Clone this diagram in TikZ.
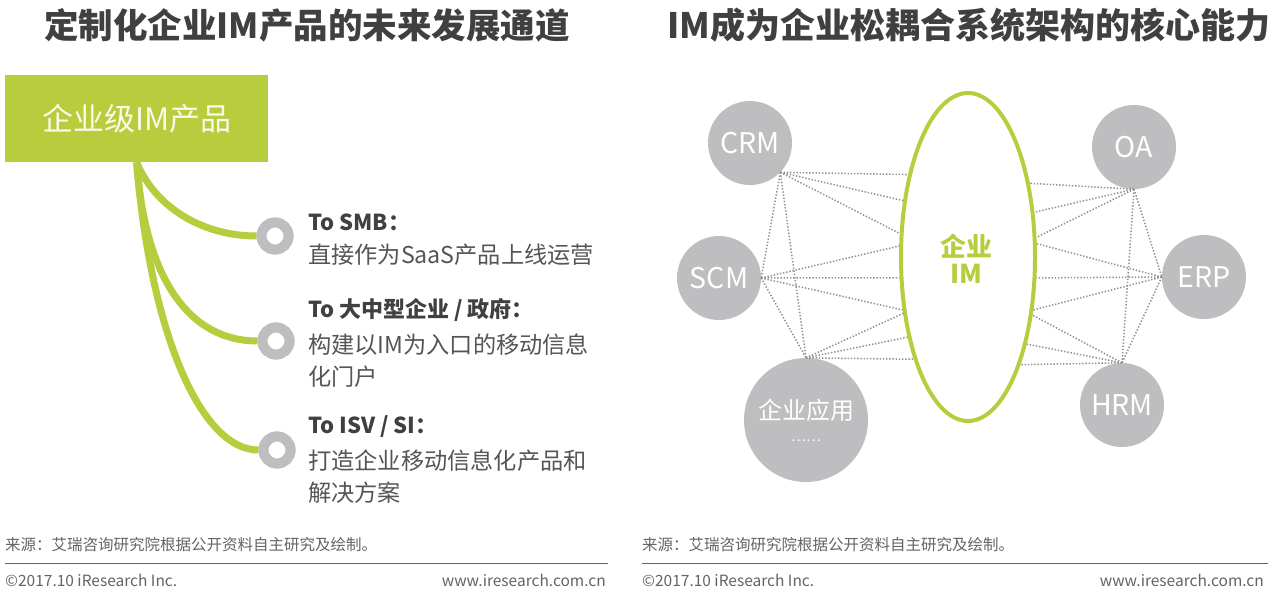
\documentclass[tikz,border=0pt]{standalone}
\usepackage{fontspec}
\setmainfont{Noto Sans CJK SC}
\usetikzlibrary{shapes.geometric}
\definecolor{lime}{RGB}{183,205,62}
\definecolor{ringgray}{RGB}{190,190,192}
\definecolor{titlegray}{RGB}{64,64,64}
\definecolor{bodygray}{RGB}{85,85,85}
\definecolor{footgray}{RGB}{100,100,100}
\definecolor{dotgray}{RGB}{145,145,145}
\definecolor{cream}{RGB}{250,250,232}
\begin{document}
\begin{tikzpicture}[x=1pt,y=-1pt,
  title/.style={font=\fontsize{34.5}{40}\selectfont\bfseries, text=titlegray, inner sep=0},
  head/.style={font=\fontsize{22}{26}\selectfont\bfseries, text=titlegray, anchor=west, inner sep=0},
  body/.style={font=\fontsize{23.2}{27}\selectfont, text=bodygray, anchor=west, inner sep=0},
  foot/.style={font=\fontsize{15.5}{18}\selectfont, text=footgray, inner sep=0},
  ring/.style={circle, draw=ringgray, line width=10pt, minimum size=27pt, inner sep=0, fill=white},
  branch/.style={lime, line width=7pt},
  sys/.style={circle, fill=ringgray, text=white, minimum size=84pt, inner sep=0, font=\fontsize{28.5}{32}\selectfont},
  link/.style={dotgray, line width=1.5pt, dash pattern=on 1.4pt off 1.8pt}]
\useasboundingbox[fill=white] (0,0) rectangle (1280,605);

% ---------- left panel ----------
\node[title] (t1) at (307,25) {定制化企业IM产品的未来发展通道};
\node[fill=lime, minimum width=263pt, minimum height=87pt, inner sep=0, anchor=north west,
      text=cream, font=\fontsize{31}{36}\selectfont] (box) at (5,75) {企业级IM产品};

\node[ring] (r1) at (275,236) {};
\node[ring] (r2) at (276,341) {};
\node[ring] (r3) at (277,450) {};
\draw[branch] (box.south) .. controls (154,205) and (200,236) .. (r1.west);
\draw[branch] (box.south) .. controls (145,280) and (190,341) .. (r2.west);
\draw[branch] (box.south) .. controls (150,330) and (200,450) .. (r3.west);
\node[ring] at (r1) {};
\node[ring] at (r2) {};
\node[ring] at (r3) {};

\node[head] (h1) at (308,222) {To SMB：};
\node[body] (b1) at (308,255) {直接作为SaaS产品上线运营};
\node[head] (h2) at (308,310) {To 大中型企业 / 政府：};
\node[body] (b2) at (308,345) {构建以IM为入口的移动信息};
\node[body] (b2b) at (308,377) {化门户};
\node[head] (h3) at (308,427) {To ISV / SI：};
\node[body] (b3) at (308,461) {打造企业移动信息化产品和};
\node[body] (b3b) at (308,493) {解决方案};

\node[foot, anchor=west] (src1) at (5,545) {来源：艾瑞咨询研究院根据公开资料自主研究及绘制。};
\coordinate (l1a) at (5,563);
\coordinate (l1b) at (608,563);
\draw[footgray, line width=1pt] (l1a) -- (l1b);
\node[foot, anchor=west] (c1) at (5,580) {©2017.10 iResearch Inc.};
\node[foot, anchor=east] (w1) at (606,580) {www.iresearch.com.cn};

% ---------- right panel ----------
\node[title, font=\fontsize{35}{42}\selectfont\bfseries] (t2) at (969,25) {IM成为企业松耦合系统架构的核心能力};

\node[ellipse, draw=lime, line width=4pt, minimum width=134pt, minimum height=328pt, inner sep=0] (im) at (968,257) {};
\node[text=lime, font=\fontsize{26}{30}\selectfont\bfseries, align=center, inner sep=0] (imt) at (966,259) {企业\\[-3pt]IM};

\node[sys] (crm) at (750,143) {CRM};
\node[sys] (scm) at (719,278) {SCM};
\node[sys, minimum size=124pt] (app) at (806,420) {};
\node[text=white, font=\fontsize{24}{28}\selectfont, inner sep=0] (appt) at (806,410) {企业应用};
\node[text=white, font=\fontsize{14}{16}\selectfont, inner sep=0] (appd) at (806,441) {……};
\node[sys] (oa) at (1134,147) {OA};
\node[sys] (erp) at (1204,277) {ERP};
\node[sys] (hrm) at (1122,405) {HRM};

% left links
\draw[link] (crm.-44) -- (im.126.6);
\draw[link] (crm.-44) -- (im.139.5);
\draw[link] (crm.-44) -- (im.161.7);
\draw[link] (scm.east) -- (im.171.5);
\draw[link] (scm.east) -- (im.197.5);
\draw[link] (scm.east) -- (im.219.9);
\draw[link] (app.north) -- (im.221.6);
\draw[link] (app.north) -- (im.233.8);
\draw[link] (app.north) -- (im.242.4);
\draw[link] (crm.-44) -- (scm.east);
\draw[link] (crm.-44) -- (app.north);
\draw[link] (scm.east) -- (app.north);
% right links
\draw[link] (oa.south) -- (im.50.1);
\draw[link] (oa.south) -- (im.34.9);
\draw[link] (oa.south) -- (im.16.7);
\draw[link] (erp.west) -- (im.11.8);
\draw[link] (erp.west) -- (im.343.3);
\draw[link] (erp.west) -- (im.321.9);
\draw[link] (hrm.north) -- (im.318.4);
\draw[link] (hrm.north) -- (im.304.9);
\draw[link] (hrm.north) -- (im.296.9);
\draw[link] (oa.south) -- (erp.west);
\draw[link] (oa.south) -- (hrm.north);
\draw[link] (erp.west) -- (hrm.north);

\node[foot, anchor=west] (src2) at (642,545) {来源：艾瑞咨询研究院根据公开资料自主研究及绘制。};
\coordinate (l2a) at (642,563);
\coordinate (l2b) at (1268,563);
\draw[footgray, line width=1pt] (l2a) -- (l2b);
\node[foot, anchor=west] (c2) at (642,580) {©2017.10 iResearch Inc.};
\node[foot, anchor=east] (w2) at (1264,580) {www.iresearch.com.cn};
\end{tikzpicture}
\end{document}
